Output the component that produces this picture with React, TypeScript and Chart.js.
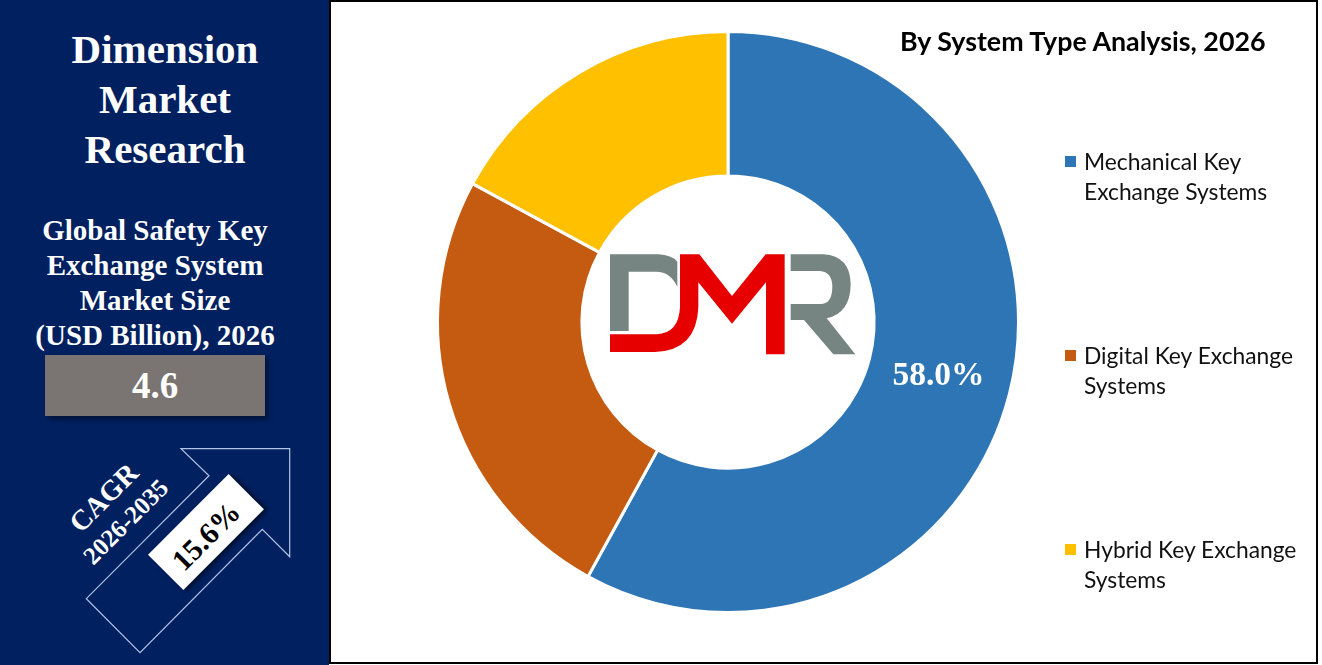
import React, { useEffect, useRef } from 'react';
import Chart from 'chart.js/auto';

const categories = ['Mechanical Key Exchange Systems', 'Digital Key Exchange Systems', 'Hybrid Key Exchange Systems'];
const legendLines = [
  ['Mechanical Key', 'Exchange Systems'],
  ['Digital Key Exchange', 'Systems'],
  ['Hybrid Key Exchange', 'Systems'],
];
const shares = [58.0, 24.9, 17.1];
const sliceColors = ['#2e75b6', '#c55a11', '#ffc000'];
const legendTops = [146, 340, 534];
const brandLines = ['Dimension', 'Market', 'Research'];
const sizeLines = ['Global Safety Key', 'Exchange System', 'Market Size', '(USD Billion), 2026'];

const SERIF = '"Liberation Serif", serif';
const SANS = 'Lato, sans-serif';

// prints the share on the biggest slice only
const sliceLabel = {
  id: 'sliceLabel',
  afterDatasetsDraw(chart: Chart) {
    const arc = chart.getDatasetMeta(0).data[0] as any;
    const pos = arc.tooltipPosition();
    const ctx = chart.ctx;
    ctx.save();
    ctx.fillStyle = '#ffffff';
    ctx.font = `bold 33.5px ${SERIF}`;
    ctx.textAlign = 'center';
    ctx.textBaseline = 'middle';
    ctx.fillText(shares[0].toFixed(1) + '%', pos.x - 1, pos.y);
    ctx.restore();
  },
};

const App: React.FC = () => {
  const canvasRef = useRef<HTMLCanvasElement>(null);

  useEffect(() => {
    if (!canvasRef.current) return;
    const chart = new Chart(canvasRef.current, {
      type: 'doughnut',
      data: {
        labels: categories,
        datasets: [
          {
            data: shares,
            backgroundColor: sliceColors,
            borderColor: '#ffffff',
            borderWidth: 3,
          },
        ],
      },
      options: {
        responsive: false,
        animation: false,
        cutout: '50.3%',
        layout: { padding: { left: 436, right: 302, top: 30, bottom: 51 } },
        plugins: { legend: { display: false }, tooltip: { enabled: false } },
      },
      plugins: [sliceLabel],
    });
    return () => chart.destroy();
  }, []);

  return (
    <div style={{ position: 'fixed', left: 0, top: 0, width: 1322, height: 665, background: '#fff', overflow: 'hidden' }}>
      {/* chart frame */}
      <div style={{ position: 'absolute', left: 329, top: 0, width: 985, height: 660, border: '2px solid #000' }} />

      {/* left panel */}
      <div style={{ position: 'absolute', left: 0, top: 0, width: 329, height: 665, background: '#002060' }} />
      {brandLines.map((line, i) => (
        <div
          key={line}
          style={{
            position: 'absolute', left: 0, width: 330, top: 24 + i * 50, height: 50,
            textAlign: 'center', color: '#fff', font: `bold 41px/50px ${SERIF}`,
          }}
        >
          {line}
        </div>
      ))}
      {sizeLines.map((line, i) => (
        <div
          key={line}
          style={{
            position: 'absolute', left: 0, width: 310, top: 213 + i * 35, height: 35,
            textAlign: 'center', color: '#fff', font: `bold 29px/35px ${SERIF}`, whiteSpace: 'nowrap',
          }}
        >
          {line}
        </div>
      ))}
      <div
        style={{
          position: 'absolute', left: 45, top: 355, width: 220, height: 61, background: '#7a7472',
          boxShadow: '3px 3px 5px rgba(0,0,0,0.45)', textAlign: 'center', color: '#fff',
          font: `bold 37px/61px ${SERIF}`,
        }}
      >
        4.6
      </div>

      {/* CAGR arrow */}
      <svg style={{ position: 'absolute', left: 0, top: 0 }} width={329} height={665}>
        <polygon
          points="181,448.7 289.7,448.7 289.7,556.7 262.3,529.3 140,652.7 86.3,598.7 209,475.7"
          fill="none"
          stroke="#b4c4e4"
          strokeWidth={1.2}
        />
      </svg>
      <div
        style={{
          position: 'absolute', left: 206 - 57, top: 532 - 25, width: 114, height: 50, background: '#fff',
          boxSizing: 'border-box', paddingRight: 6,
          transform: 'rotate(-45deg)', boxShadow: '2px 3px 5px rgba(0,0,0,0.6)', textAlign: 'center',
          color: '#000', font: `bold 30px/56px ${SERIF}`,
        }}
      >
        15.6%
      </div>
      <div
        style={{
          position: 'absolute', left: 104 - 60, top: 498 - 20, width: 120, height: 40, transform: 'rotate(-45deg)',
          textAlign: 'center', color: '#fff', font: `bold 28.5px/40px ${SERIF}`,
        }}
      >
        CAGR
      </div>
      <div
        style={{
          position: 'absolute', left: 126 - 70, top: 522 - 15, width: 140, height: 30, transform: 'rotate(-45deg)',
          textAlign: 'center', color: '#fff', font: `bold 25px/30px ${SERIF}`,
        }}
      >
        2026-2035
      </div>

      <canvas ref={canvasRef} width={1322} height={665} style={{ position: 'absolute', left: 0, top: 0 }} />

      {/* DMR logo */}
      <svg style={{ position: 'absolute', left: 580, top: 220 }} width={300} height={160} viewBox="0 0 900 480">
        <path d="M90 103 H235 Q275 105 292 125 V200 Q270 155 230 155 H146 V333 H90 Z" fill="#768482" />
        <path
          d="M90 343 H230 Q296 340 300 262 V103 H358 L456 228 L557 103 H614 V403 H558 V187 L456 311 L355 187 V262 Q350 392 225 396 H90 Z"
          fill="#e60000"
        />
        <path
          d="M632 103 H730 Q812 108 812 195 Q810 280 740 295 L826 403 H760 L672 300 H632 V252 H725 Q757 250 757 198 Q755 155 720 153 H632 Z"
          fill="#768482"
        />
      </svg>

      {/* title and legend */}
      <div
        style={{
          position: 'absolute', left: 900, top: 24, whiteSpace: 'nowrap', color: '#000',
          font: `bold 26.8px/34px ${SANS}`,
        }}
      >
        By System Type Analysis, 2026
      </div>
      {legendLines.map((lines, i) => (
        <React.Fragment key={lines[0]}>
          <div
            style={{
              position: 'absolute', left: 1065, top: legendTops[i] + 10, width: 11, height: 11,
              background: sliceColors[i],
            }}
          />
          <div
            style={{
              position: 'absolute', left: 1084, top: legendTops[i], whiteSpace: 'nowrap', color: '#111',
              font: `22.8px/30px ${SANS}`,
            }}
          >
            {lines.map((line) => (
              <div key={line}>{line}</div>
            ))}
          </div>
        </React.Fragment>
      ))}
    </div>
  );
};

export default App;
